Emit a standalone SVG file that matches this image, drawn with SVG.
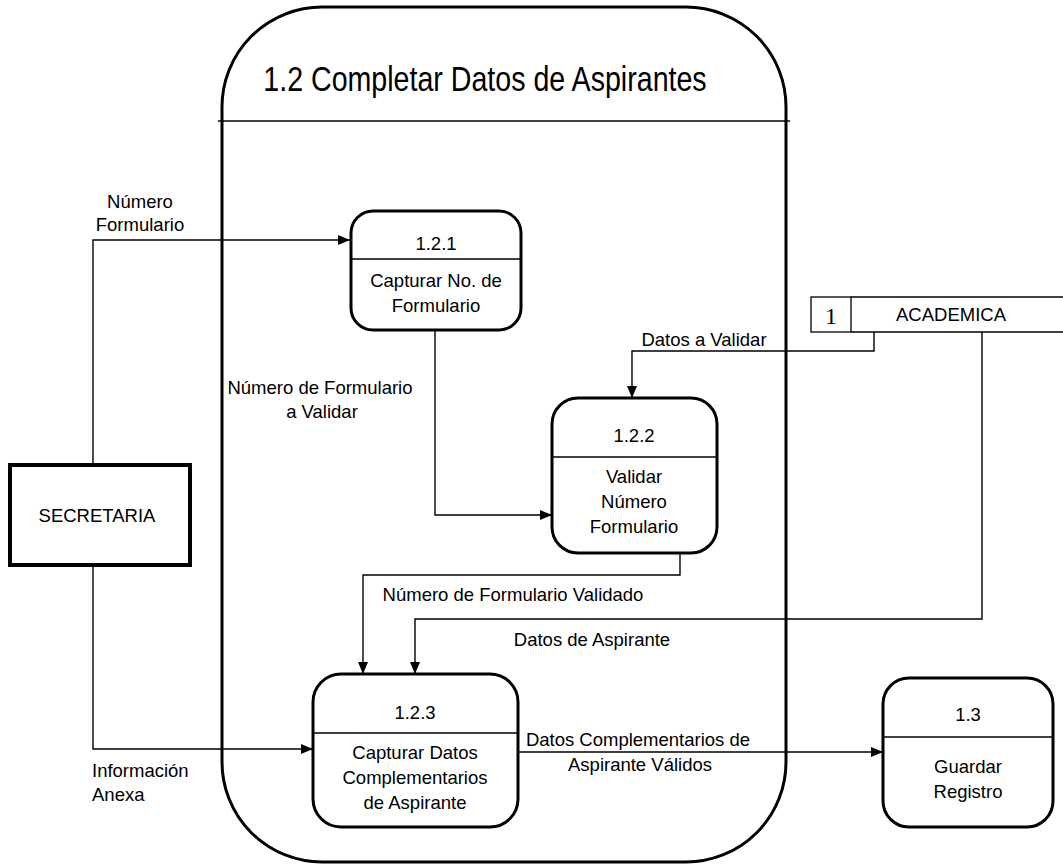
<svg xmlns="http://www.w3.org/2000/svg" width="1063" height="865" viewBox="0 0 1063 865">
<defs>
<marker id="arr" viewBox="0 0 12 10" refX="12" refY="5" markerWidth="12" markerHeight="10" markerUnits="userSpaceOnUse" orient="auto">
<path d="M0,0 L12,5 L0,10 Z" fill="#000"/>
</marker>
</defs>
<style>
text{font-family:"Liberation Sans",Arial,sans-serif;font-size:18.5px;fill:#000;text-anchor:middle}
.proc{fill:#fff;stroke:#000;stroke-width:3}
.div{stroke:#000;stroke-width:1.5}
.conn{fill:none;stroke:#000;stroke-width:1.4}
.left{text-anchor:start}
</style>
<rect width="1063" height="865" fill="#fff"/>
<g id="container">
<rect x="222" y="7" width="564" height="855" rx="100" ry="100" fill="#fff" stroke="#000" stroke-width="3"/>
<line x1="218" y1="121" x2="790" y2="121" class="div"/>
<text x="485" y="0" transform="translate(0,91) scale(1,1.25)" style="font-size:28.6px">1.2 Completar Datos de Aspirantes</text>
</g>
<g id="connectors">
<polyline class="conn" points="93,465 93,240 350,240" marker-end="url(#arr)"/>
<polyline class="conn" points="435,330 435,515 552,515" marker-end="url(#arr)"/>
<polyline class="conn" points="874,332 874,351 632,351 632,398" marker-end="url(#arr)"/>
<polyline class="conn" points="982,332 982,619 415,619 415,674" marker-end="url(#arr)"/>
<polyline class="conn" points="680,553 680,575 363,575 363,674" marker-end="url(#arr)"/>
<polyline class="conn" points="93,565 93,749 313,749" marker-end="url(#arr)"/>
<polyline class="conn" points="518,752 883,752" marker-end="url(#arr)"/>
<text x="140" y="208">Número</text>
<text x="140" y="231">Formulario</text>
<text x="320" y="394">Número de Formulario</text>
<text x="322" y="418">a Validar</text>
<text x="704" y="346">Datos a Validar</text>
<text x="513" y="601">Número de Formulario Validado</text>
<text x="592" y="646">Datos de Aspirante</text>
<text x="92" y="777" class="left">Información</text>
<text x="92" y="801" class="left">Anexa</text>
<text x="638" y="746">Datos Complementarios de</text>
<text x="640" y="771">Aspirante Válidos</text>
</g>
<g id="secretaria">
<rect x="10" y="465" width="180" height="100" fill="#fff" stroke="#000" stroke-width="4"/>
<text x="97" y="522">SECRETARIA</text>
</g>
<g id="academica">
<rect x="811" y="297" width="40" height="35" fill="#fff" stroke="#000" stroke-width="1.3"/>
<line x1="851" y1="297" x2="1063" y2="297" class="div"/>
<line x1="851" y1="332" x2="1063" y2="332" class="div"/>
<text x="831" y="324" style="font-family:'Liberation Serif','Times New Roman',serif;font-size:24px">1</text>
<text x="951" y="321">ACADEMICA</text>
</g>
<g id="p121">
<rect x="351" y="211" width="170" height="119" rx="22" class="proc"/>
<line x1="351" y1="259" x2="521" y2="259" class="div"/>
<text x="436" y="250">1.2.1</text>
<text x="436" y="287">Capturar No. de</text>
<text x="436" y="312">Formulario</text>
</g>
<g id="p122">
<rect x="552" y="398" width="165" height="155" rx="26" class="proc"/>
<line x1="552" y1="457" x2="717" y2="457" class="div"/>
<text x="634" y="442">1.2.2</text>
<text x="634" y="483">Validar</text>
<text x="634" y="508">Número</text>
<text x="634" y="533">Formulario</text>
</g>
<g id="p123">
<rect x="313" y="674" width="205" height="153" rx="28" class="proc"/>
<line x1="313" y1="733" x2="518" y2="733" class="div"/>
<text x="415" y="719">1.2.3</text>
<text x="415" y="759">Capturar Datos</text>
<text x="415" y="784">Complementarios</text>
<text x="415" y="809">de Aspirante</text>
</g>
<g id="p13">
<rect x="883" y="678" width="170" height="149" rx="26" class="proc"/>
<line x1="883" y1="737" x2="1053" y2="737" class="div"/>
<text x="968" y="721">1.3</text>
<text x="968" y="773">Guardar</text>
<text x="968" y="798">Registro</text>
</g>
</svg>
